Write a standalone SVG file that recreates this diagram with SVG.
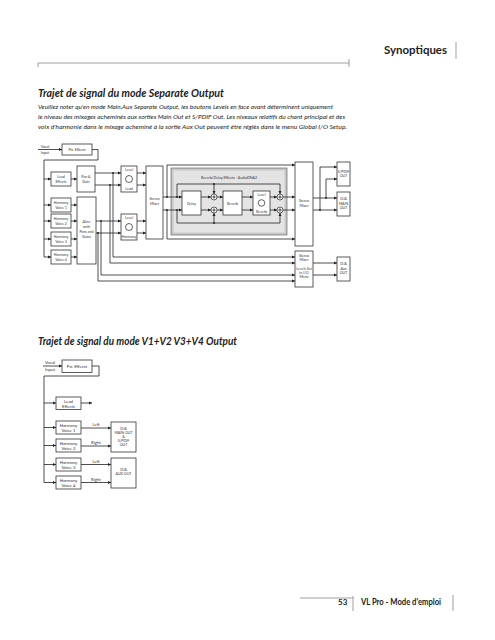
<svg xmlns="http://www.w3.org/2000/svg" width="495" height="640" viewBox="0 0 495 640">
<defs>
<marker id="ah" viewBox="0 0 6 6" refX="6" refY="3" markerWidth="3.2" markerHeight="3.2" markerUnits="userSpaceOnUse" orient="auto"><path d="M0,0 L6,3 L0,6 z" fill="#222"/></marker>
<style>
.box{fill:#fff;stroke:#333;stroke-width:0.8}
.ln{fill:none;stroke:#222;stroke-width:0.8}
.a{marker-end:url(#ah)}
.dot{fill:#222}
.t{font-family:Lato,"Liberation Sans",sans-serif;font-size:3.6px;fill:#333;text-anchor:middle}
.tb{font-family:Lato,"Liberation Sans",sans-serif;font-size:4.3px;fill:#333;text-anchor:middle}
.knob{fill:none;stroke:#222;stroke-width:0.7}
.sum{fill:#fff;stroke:#222;stroke-width:0.7}
.hdr{font-family:Lato,"Liberation Sans",sans-serif;font-weight:bold;fill:#222}
.ttl{font-family:Lato,"Liberation Sans",sans-serif;font-weight:bold;font-style:italic;font-size:11.5px;fill:#222}
.par{font-family:Lato,"Liberation Sans",sans-serif;font-style:italic;font-size:6.2px;fill:#222}
.rule{stroke:#888;stroke-width:0.8;fill:none}
</style>
</defs>

<!-- header / footer -->
<g id="header">
<text class="hdr" x="384" y="54" font-size="11" textLength="63" lengthAdjust="spacingAndGlyphs">Synoptiques</text>
<path class="rule" d="M456,42 V59"/>
<path class="rule" d="M38,63 H349 M38,63 V67 M349,59 V67"/>
</g>
<g id="titles">
<text class="ttl" x="38" y="97" textLength="186" lengthAdjust="spacingAndGlyphs">Trajet de signal du mode Separate Output</text>
<text class="par" x="38" y="109" textLength="295" lengthAdjust="spacingAndGlyphs">Veuillez noter qu'en mode Main,Aux Separate Output, les boutons Levels en face avant déterminent uniquement</text>
<text class="par" x="38" y="119" textLength="307" lengthAdjust="spacingAndGlyphs">le niveau des mixages acheminés aux sorties Main Out et S/PDIF Out. Les niveaux relatifs du chant principal et des</text>
<text class="par" x="38" y="129" textLength="309" lengthAdjust="spacingAndGlyphs">voix d'harmonie dans le mixage acheminé à la sortie Aux Out peuvent être réglés dans le menu Global I/O Setup.</text>
<text class="ttl" x="38" y="345" textLength="199" lengthAdjust="spacingAndGlyphs">Trajet de signal du mode V1+V2 V3+V4 Output</text>
</g>
<g id="footer">
<path class="rule" d="M300,598 H353 M353,596 V611 M453,595 V611"/>
<text class="hdr" x="338" y="605" font-size="8">53</text>
<text class="hdr" x="361" y="605" font-size="8.5" textLength="80" lengthAdjust="spacingAndGlyphs">VL Pro - Mode d'emploi</text>
</g>

<!-- ===== TOP DIAGRAM ===== -->
<g id="reverb-area">
<rect x="171" y="168" width="116" height="67" fill="#c8c8c8" stroke="#555" stroke-width="0.6"/>
<rect x="173.5" y="170.5" width="111" height="62" fill="#e4e4e4" stroke="none"/>
<text class="t" x="229" y="178.5">Reverb/Delay/Effects - AudioDNA2</text>
</g>

<g id="connectors-top">
<path class="ln a" d="M38,149.5 H62"/>
<path class="ln" d="M92,149.5 H98 V160 H44 V257"/>
<path class="ln a" d="M44,179 H51"/>
<path class="ln a" d="M44,205 H51"/>
<path class="ln a" d="M44,221 H51"/>
<path class="ln a" d="M44,239 H51"/>
<path class="ln a" d="M44,257 H51"/>
<path class="ln a" d="M71,179 H77"/>
<path class="ln a" d="M71,205 H77"/>
<path class="ln a" d="M71,221 H77"/>
<path class="ln a" d="M71,239 H77"/>
<path class="ln a" d="M71,257 H77"/>
<path class="ln a" d="M95,173 H121"/>
<path class="ln a" d="M95,185 H121"/>
<path class="ln a" d="M96,221 H121"/>
<path class="ln a" d="M96,233 H121"/>
<path class="ln a" d="M137,173 H146"/>
<path class="ln a" d="M137,185 H146"/>
<path class="ln a" d="M137,221 H146"/>
<path class="ln a" d="M137,233 H146"/>
<path class="ln a" d="M113,173 V257 H295"/>
<path class="ln a" d="M110,185 V263 H295"/>
<path class="ln a" d="M101,221 V275 H295"/>
<path class="ln a" d="M98,233 V281 H295"/>
<path class="ln a" d="M163,197 H182"/>
<path class="ln a" d="M163,210 H182"/>
<path class="ln a" d="M167,197 V165 H295"/>
<path class="ln a" d="M167,210 V239 H295"/>
<path class="ln a" d="M177,197 V184 H280 V194"/>
<path class="ln a" d="M214,184 V194"/>
<path class="ln a" d="M177,210 V223 H280 V213"/>
<path class="ln a" d="M214,223 V213"/>
<path class="ln a" d="M201,197 H211"/>
<path class="ln a" d="M201,210 H211"/>
<path class="ln a" d="M217,197 H223"/>
<path class="ln a" d="M217,210 H223"/>
<path class="ln a" d="M242,197 H253"/>
<path class="ln a" d="M242,210 H253"/>
<path class="ln a" d="M270,197 H277"/>
<path class="ln a" d="M270,210 H277"/>
<path class="ln a" d="M283,197 H295"/>
<path class="ln a" d="M283,210 H295"/>
<path class="ln a" d="M313,198 H337"/>
<path class="ln a" d="M313,210 H337"/>
<path class="ln a" d="M326,198 V179 H337"/>
<path class="ln a" d="M320,210 V167 H337"/>
<path class="ln a" d="M313,263 H337"/>
<path class="ln a" d="M313,275 H337"/>
<circle class="dot" cx="113" cy="173" r="0.9"/>
<circle class="dot" cx="110" cy="185" r="0.9"/>
<circle class="dot" cx="101" cy="221" r="0.9"/>
<circle class="dot" cx="98" cy="233" r="0.9"/>
<circle class="dot" cx="167" cy="197" r="0.9"/>
<circle class="dot" cx="167" cy="210" r="0.9"/>
<circle class="dot" cx="177" cy="197" r="0.9"/>
<circle class="dot" cx="177" cy="210" r="0.9"/>
<circle class="dot" cx="214" cy="184" r="0.9"/>
<circle class="dot" cx="214" cy="223" r="0.9"/>
<circle class="dot" cx="326" cy="198" r="0.9"/>
<circle class="dot" cx="320" cy="210" r="0.9"/>
</g>

<g id="vocal-input-1"><text class="t" x="45" y="147.5">Vocal</text><text class="t" x="45" y="153.8">Input</text></g>
<g id="pre-effects-1"><rect class="box" x="62" y="144" width="30" height="11"/><text class="t" x="77" y="150.8">Pre Effects</text></g>
<g id="lead-effects-1"><rect class="box" x="51" y="172" width="20" height="14"/><text class="t" x="61" y="178">Lead</text><text class="t" x="61" y="182.5">Effects</text></g>
<g id="hv1-1"><rect class="box" x="51" y="198" width="20" height="14"/><text class="t" x="61" y="204">Harmony</text><text class="t" x="61" y="208.5">Voice 1</text></g>
<g id="hv2-1"><rect class="box" x="51" y="214" width="20" height="14"/><text class="t" x="61" y="220">Harmony</text><text class="t" x="61" y="224.5">Voice 2</text></g>
<g id="hv3-1"><rect class="box" x="51" y="232" width="20" height="14"/><text class="t" x="61" y="238">Harmony</text><text class="t" x="61" y="242.5">Voice 3</text></g>
<g id="hv4-1"><rect class="box" x="51" y="250" width="20" height="14"/><text class="t" x="61" y="256">Harmony</text><text class="t" x="61" y="260.5">Voice 4</text></g>
<g id="pan-gain"><rect class="box" x="77" y="166" width="18" height="26"/><text class="t" x="86" y="177.5">Pan &amp;</text><text class="t" x="86" y="182.5">Gain</text></g>
<g id="alter"><rect class="box" x="77" y="197" width="19" height="67"/><text class="t" x="86.5" y="223">Alter</text><text class="t" x="86.5" y="228">with</text><text class="t" x="86.5" y="233">Pans and</text><text class="t" x="86.5" y="238">Gains</text></g>
<g id="level-lead"><rect class="box" x="121" y="166" width="16" height="26"/><text class="t" x="129" y="171">Level</text><circle class="knob" cx="129" cy="179" r="3.5"/><text class="t" x="129" y="189.5">Lead</text></g>
<g id="level-harmony"><rect class="box" x="121" y="214" width="16" height="26"/><text class="t" x="129" y="219">Level</text><circle class="knob" cx="129" cy="227" r="3.5"/><text class="t" x="129" y="237.5">Harmony</text></g>
<g id="stereo-mixer-1"><rect class="box" x="146" y="166" width="17" height="73"/><text class="t" x="154.5" y="200">Stereo</text><text class="t" x="154.5" y="205">Mixer</text></g>
<g id="delay"><rect class="box" x="182" y="191" width="19" height="24"/><text class="t" x="191.5" y="204.5">Delay</text></g>
<g id="sum-1"><circle class="sum" cx="214" cy="197" r="3"/><path class="ln" d="M212.3,197 H215.7 M214,195.3 V198.7" stroke-width="0.5"/></g>
<g id="sum-2"><circle class="sum" cx="214" cy="210" r="3"/><path class="ln" d="M212.3,210 H215.7 M214,208.3 V211.7" stroke-width="0.5"/></g>
<g id="reverb"><rect class="box" x="223" y="191" width="19" height="24"/><text class="t" x="232.5" y="204.5">Reverb</text></g>
<g id="level-reverb"><rect class="box" x="253" y="191" width="17" height="24"/><text class="t" x="261.5" y="196">Level</text><circle class="knob" cx="261.5" cy="203" r="3.3"/><text class="t" x="261.5" y="212.5">Reverb</text></g>
<g id="sum-3"><circle class="sum" cx="280" cy="197" r="3"/><path class="ln" d="M278.3,197 H281.7 M280,195.3 V198.7" stroke-width="0.5"/></g>
<g id="sum-4"><circle class="sum" cx="280" cy="210" r="3"/><path class="ln" d="M278.3,210 H281.7 M280,208.3 V211.7" stroke-width="0.5"/></g>
<g id="stereo-mixer-2"><rect class="box" x="295" y="162" width="18" height="84"/><text class="t" x="304" y="202">Stereo</text><text class="t" x="304" y="207">Mixer</text></g>
<g id="stereo-mixer-3"><rect class="box" x="295" y="251" width="18" height="36"/><text class="t" x="304" y="256.5">Stereo</text><text class="t" x="304" y="261">Mixer</text><text class="t" x="304" y="270" font-size="3.2">Levels Set</text><text class="t" x="304" y="274" font-size="3.2">in I/O</text><text class="t" x="304" y="278" font-size="3.2">Menu</text></g>
<g id="spdif-out"><rect class="box" x="337" y="162" width="13" height="24"/><text class="t" x="343.5" y="172.5">S/PDIF</text><text class="t" x="343.5" y="177">OUT</text></g>
<g id="da-main-out"><rect class="box" x="337" y="192" width="13" height="24"/><text class="t" x="343.5" y="200">D/A</text><text class="t" x="343.5" y="204.5">MAIN</text><text class="t" x="343.5" y="209">OUT</text></g>
<g id="da-aux-out"><rect class="box" x="337" y="257" width="13" height="24"/><text class="t" x="343.5" y="265">D/A</text><text class="t" x="343.5" y="269.5">Aux</text><text class="t" x="343.5" y="274">OUT</text></g>

<!-- ===== BOTTOM DIAGRAM ===== -->
<g id="connectors-bottom">
<path class="ln a" d="M43,366 H62"/>
<path class="ln" d="M92,366 H99 V376 H44 V482.5"/>
<path class="ln a" d="M44,403 H56"/>
<path class="ln a" d="M44,427.5 H56"/>
<path class="ln a" d="M44,445.5 H56"/>
<path class="ln a" d="M44,464.5 H56"/>
<path class="ln a" d="M44,482.5 H56"/>
<path class="ln a" d="M81,403 H92"/>
<path class="ln a" d="M81,428 H111"/>
<path class="ln a" d="M81,446 H111"/>
<path class="ln a" d="M81,464.5 H111"/>
<path class="ln a" d="M81,482.5 H111"/>
</g>
<g id="labels-bottom">
<text class="tb" x="96" y="426">Left</text>
<text class="tb" x="96" y="444">Right</text>
<text class="tb" x="96" y="462.5">Left</text>
<text class="tb" x="96" y="480.5">Right</text>
</g>
<g id="vocal-input-2"><text class="tb" x="50" y="364">Vocal</text><text class="tb" x="50" y="370.5">Input</text></g>
<g id="pre-effects-2"><rect class="box" x="62" y="360" width="30" height="12.5"/><text class="tb" x="77" y="367.8">Pre Effects</text></g>
<g id="lead-effects-2"><rect class="box" x="56" y="397" width="25" height="12.5"/><text class="tb" x="68.5" y="402.5">Lead</text><text class="tb" x="68.5" y="407.5">Effects</text></g>
<g id="hv1-2"><rect class="box" x="56" y="421" width="25" height="13"/><text class="tb" x="68.5" y="426.5">Harmony</text><text class="tb" x="68.5" y="431.5">Voice 1</text></g>
<g id="hv2-2"><rect class="box" x="56" y="439" width="25" height="13"/><text class="tb" x="68.5" y="444.5">Harmony</text><text class="tb" x="68.5" y="449.5">Voice 2</text></g>
<g id="hv3-2"><rect class="box" x="56" y="458" width="25" height="13"/><text class="tb" x="68.5" y="463.5">Harmony</text><text class="tb" x="68.5" y="468.5">Voice 3</text></g>
<g id="hv4-2"><rect class="box" x="56" y="476" width="25" height="13"/><text class="tb" x="68.5" y="481.5">Harmony</text><text class="tb" x="68.5" y="486.5">Voice 4</text></g>
<g id="da-main-spdif"><rect class="box" x="111" y="422" width="25" height="30"/><text class="t" x="123.5" y="429.5">D/A</text><text class="t" x="123.5" y="433.5">MAIN OUT</text><text class="t" x="123.5" y="437.5">&amp;</text><text class="t" x="123.5" y="441.5">S/PDIF</text><text class="t" x="123.5" y="445.5">OUT</text></g>
<g id="da-aux-out-2"><rect class="box" x="111" y="458" width="25" height="30"/><text class="t" x="123.5" y="471">D/A</text><text class="t" x="123.5" y="475">AUX OUT</text></g>
</svg>
